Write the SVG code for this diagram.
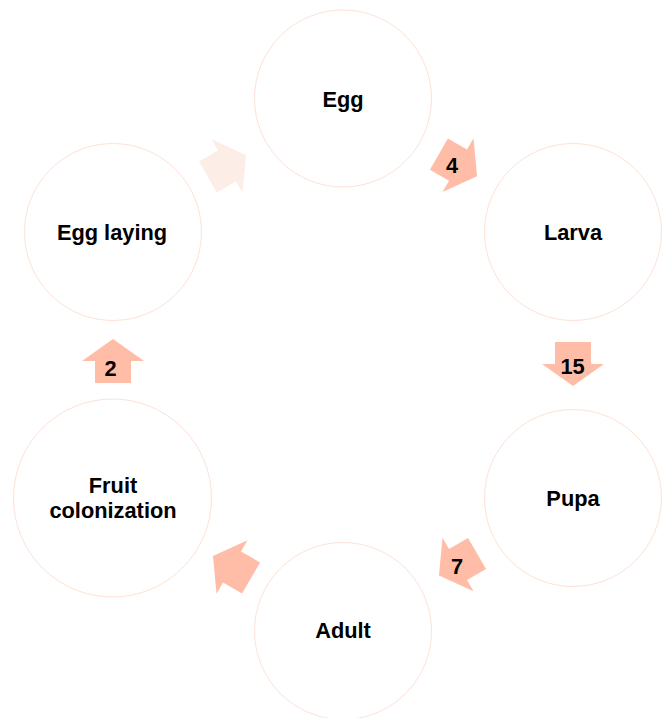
<svg xmlns="http://www.w3.org/2000/svg" width="666" height="718" viewBox="0 0 666 718">
<style>
.node{fill:#ffffff;stroke:#fde2d5;stroke-width:1}
.lbl{font-family:"Liberation Sans",Arial,sans-serif;font-weight:bold;font-size:21.8px;fill:#000;text-anchor:middle}
.arr{fill:#ffbda8}
.arr-faint{fill:#fdede7}
</style>
<defs>
<polygon id="arrow" points="-22,-18 0,-18 0,-31 22,0 0,31 0,18 -22,18"/>
</defs>
<rect width="666" height="718" fill="#ffffff"/>
<g id="connectors">
<g id="arrow-egglaying-egg"><use href="#arrow" class="arr-faint" transform="translate(227,166) rotate(-30)"/></g>
<g id="arrow-egg-larva"><use href="#arrow" class="arr" transform="translate(458,165.2) rotate(30)"/><text class="lbl" x="452" y="172.5">4</text></g>
<g id="arrow-larva-pupa"><use href="#arrow" class="arr" transform="translate(573,364) rotate(90)"/><text class="lbl" x="572.5" y="373.5">15</text></g>
<g id="arrow-pupa-adult"><use href="#arrow" class="arr" transform="translate(458,564.5) rotate(150)"/><text class="lbl" x="457" y="574">7</text></g>
<g id="arrow-adult-fruit"><use href="#arrow" class="arr" transform="translate(232,567) rotate(210)"/></g>
<g id="arrow-fruit-egglaying"><use href="#arrow" class="arr" transform="translate(113,361) rotate(-90)"/><text class="lbl" x="110.5" y="376">2</text></g>
</g>
<g id="node-egg"><circle class="node" cx="343" cy="98.5" r="88.5"/><text class="lbl" x="343" y="106.5">Egg</text></g>
<g id="node-larva"><circle class="node" cx="573" cy="232" r="88.5"/><text class="lbl" x="573" y="239.5">Larva</text></g>
<g id="node-pupa"><circle class="node" cx="573" cy="498" r="88.5"/><text class="lbl" x="573" y="505.5">Pupa</text></g>
<g id="node-adult"><circle class="node" cx="343" cy="631" r="88.5"/><text class="lbl" x="343" y="638">Adult</text></g>
<g id="node-fruit"><circle class="node" cx="112.5" cy="498" r="99"/><text class="lbl" x="113" y="492.5">Fruit</text><text class="lbl" x="113" y="517.5">colonization</text></g>
<g id="node-egglaying"><circle class="node" cx="113" cy="232" r="88.5"/><text class="lbl" x="112" y="239.5">Egg laying</text></g>
</svg>
